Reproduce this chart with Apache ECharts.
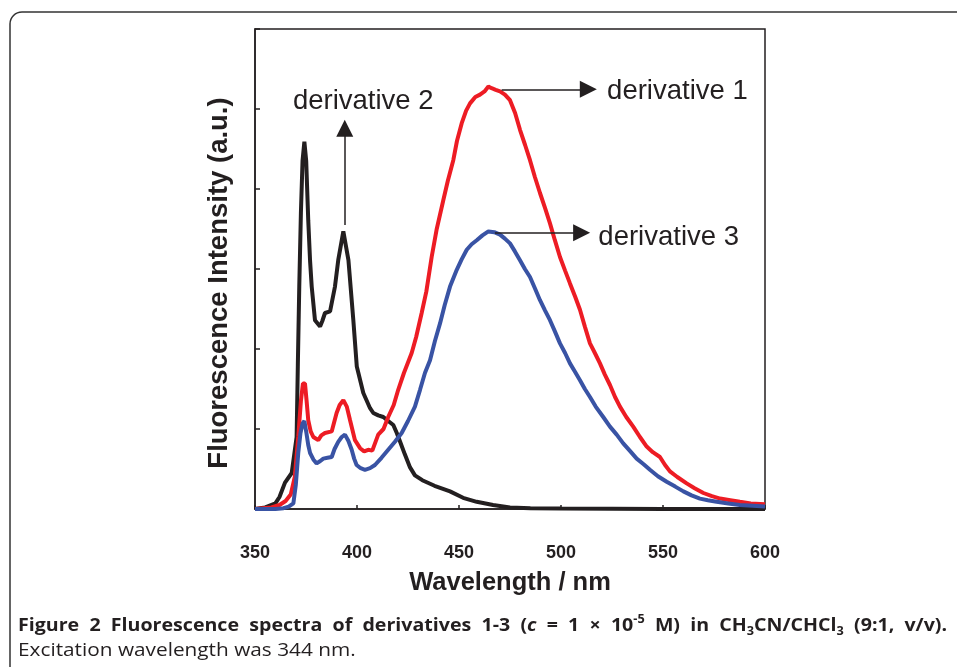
<!DOCTYPE html>
<html>
<head>
<meta charset="utf-8">
<script src="https://cdn.jsdelivr.net/npm/echarts@6/dist/echarts.min.js"></script>
<style>html,body{margin:0;padding:0;background:#fff;}#chart{width:957px;height:667px;}</style>
</head>
<body>
<div id="chart"></div>
<script>
// ---- Data ----
const xTicks = [350, 400, 450, 500, 550, 600];

// derivative 2 (black)
const wlD2 = [350,355,360,362,364.7,368,370.4,371.0,371.7,372.5,373.3,374.2,375.1,376.1,377,377.8,379.4,381.9,383,384.3,386.8,389.2,390.8,393.3,395.8,398.2,399.9,403.1,406.4,408,410.4,412.9,415.3,417.8,419.5,421,423.5,426,428.4,432,438,445.6,452,458.7,466.7,475,485,500,550,600];
const intD2 = [0,0.02,0.07,0.15,0.33,0.45,0.9,1.8,2.78,3.7,4.35,4.59,4.35,3.61,3.1,2.78,2.36,2.28,2.35,2.45,2.47,2.78,3.11,3.47,3.11,2.36,1.78,1.45,1.26,1.2,1.17,1.15,1.1,1.05,0.95,0.85,0.68,0.52,0.42,0.36,0.29,0.22,0.14,0.09,0.05,0.02,0.01,0.005,0,0];

// derivative 1 (red)
const wlD1 = [350,358,362,365,367.5,369.5,371.2,372.5,373.5,374.5,375.3,376.1,377.3,378.6,381,382.5,384.3,387.6,390,391.5,393.3,395,396.6,399,401.5,403.5,405.5,407.5,410.4,413,415.3,418,420.2,423,426.8,429,431.7,434,436.6,439,442.3,444.5,447.2,449,451.3,453.5,455.4,458,460.3,462.5,464.4,466,468,470.1,472.5,475,477.5,479.9,482.4,484.8,487.2,489.7,492.2,494.6,497,499.5,502,504.4,507,509.3,511.7,514.2,516.6,519.1,521.5,524,526.5,528.9,532,535.4,538.7,542,545,548.5,551,553.4,557,561.6,565.5,569.8,574,578,583,587.7,593,600];
const intD1 = [0,0.02,0.05,0.1,0.18,0.4,0.9,1.35,1.57,1.57,1.35,1.11,0.97,0.9,0.86,0.92,0.95,0.97,1.2,1.3,1.36,1.28,1.11,0.86,0.76,0.72,0.74,0.73,0.93,1.0,1.15,1.3,1.49,1.7,1.95,2.15,2.45,2.72,3.15,3.49,3.86,4.1,4.36,4.6,4.82,4.98,5.07,5.15,5.18,5.22,5.28,5.26,5.24,5.22,5.18,5.11,4.95,4.74,4.55,4.36,4.15,3.95,3.76,3.57,3.36,3.15,2.98,2.82,2.65,2.49,2.28,2.07,1.95,1.82,1.68,1.55,1.4,1.28,1.15,1.03,0.9,0.78,0.71,0.65,0.55,0.47,0.4,0.32,0.26,0.2,0.16,0.13,0.11,0.09,0.07,0.06];

// derivative 3 (blue)
const wlD3 = [350,360,364,366.5,368.8,370,371.2,372.3,373.3,374.2,375.2,376.1,377,378.6,380.2,382,383.5,385.5,387.6,389,390.8,392.5,394.1,395.8,397.4,398.6,399.8,401.8,403.9,406.4,408.8,412,415.3,418.6,421.9,425,428.4,430.9,433.3,435.8,438.2,440.7,443,445.6,448.9,451.3,453.8,456.2,458.7,461.5,464.4,467.3,470.1,472.5,475,477.4,479.9,482.3,484.8,487.2,489.7,492.2,494.6,497,499.5,502,504.4,507,509.3,511.7,514.2,517,520.7,524,527.3,530.5,534,537.1,540.5,543.6,547.5,551.8,556,560,564,568.1,572,576.3,582,587.7,594,600];
const intD3 = [0,0,0.01,0.03,0.07,0.3,0.7,0.95,1.07,1.1,0.95,0.8,0.7,0.62,0.57,0.6,0.63,0.64,0.65,0.75,0.84,0.9,0.93,0.85,0.74,0.63,0.55,0.51,0.49,0.51,0.55,0.64,0.74,0.84,0.95,1.1,1.28,1.49,1.7,1.86,2.1,2.32,2.55,2.78,2.99,3.12,3.24,3.31,3.36,3.42,3.47,3.46,3.43,3.38,3.32,3.22,3.11,3.0,2.9,2.76,2.61,2.48,2.36,2.22,2.07,1.95,1.82,1.71,1.61,1.5,1.4,1.28,1.15,1.03,0.93,0.82,0.72,0.63,0.56,0.49,0.41,0.34,0.28,0.22,0.17,0.13,0.11,0.09,0.07,0.05,0.04,0.03];

// annotation labels and arrows (data coordinates)
const labelTexts = ['derivative 1', 'derivative 2', 'derivative 3'];
const labelPos = [[522.6, 5.22], [368.6, 5.10], [518.3, 3.39]];
const arrows = [
  [[470.9, 5.246], [513.4, 5.246]],
  [[394.0, 3.55], [394.0, 4.76]],
  [[467.6, 3.454], [510.1, 3.454]]
];

// ---- Chart ----
const pair = (xs, ys) => xs.map((x, i) => [x, ys[i]]);
const INK = '#231F20';
const chart = echarts.init(document.getElementById('chart'), null, {renderer: 'canvas'});

const option = {
  animation: false,
  backgroundColor: '#fff',
  grid: {left: 255, top: 29, width: 510, height: 480, show: true, borderColor: INK, borderWidth: 1.5, backgroundColor: 'transparent'},
  xAxis: {
    type: 'value', min: 350, max: 600, interval: 50,
    name: 'Wavelength / nm', nameLocation: 'middle', nameGap: 61,
    nameTextStyle: {fontFamily: 'Liberation Sans', fontWeight: 'bold', fontSize: 25.5, color: INK},
    axisLine: {lineStyle: {color: INK, width: 1.5}},
    axisTick: {inside: true, length: 4, lineStyle: {color: INK, width: 1.5}},
    axisLabel: {fontFamily: 'Liberation Sans', fontWeight: 'bold', fontSize: 18, color: INK, margin: 35,
      formatter: v => (xTicks.indexOf(v) >= 0 ? String(v) : '')},
    splitLine: {show: false}
  },
  yAxis: {
    type: 'value', min: 0, max: 6, interval: 1,
    name: 'Fluorescence Intensity (a.u.)', nameLocation: 'middle', nameGap: 22,
    nameTextStyle: {fontFamily: 'Liberation Sans', fontWeight: 'bold', fontSize: 27.5, color: INK, padding: [0, 28, 0, 0]},
    axisLine: {lineStyle: {color: INK, width: 1.5}},
    axisTick: {inside: true, length: 5, lineStyle: {color: INK, width: 1.5}},
    axisLabel: {show: false},
    splitLine: {show: false}
  },
  series: [
    {
      name: 'derivative 2', type: 'line', data: pair(wlD2, intD2), showSymbol: false, smooth: false,
      lineStyle: {color: INK, width: 4}, itemStyle: {color: INK}, z: 2,
      markLine: {
        silent: true, symbol: ['none', 'triangle'], symbolSize: 17,
        label: {show: false},
        lineStyle: {color: INK, width: 1.5, type: 'solid'},
        itemStyle: {color: INK},
        data: arrows.map(a => [{coord: a[0]}, {coord: a[1]}])
      },
      markPoint: {
        silent: true, symbol: 'circle', symbolSize: 0.01, itemStyle: {color: 'transparent'},
        label: {show: true, position: 'right', distance: 0, fontFamily: 'Liberation Sans', fontSize: 27.5, color: INK,
          formatter: p => p.name},
        data: labelTexts.map((t, i) => ({name: t, coord: labelPos[i]}))
      }
    },
    {
      name: 'derivative 1', type: 'line', data: pair(wlD1, intD1), showSymbol: false, smooth: false,
      lineStyle: {color: '#ED1C24', width: 4}, itemStyle: {color: '#ED1C24'}, z: 3
    },
    {
      name: 'derivative 3', type: 'line', data: pair(wlD3, intD3), showSymbol: false, smooth: false,
      lineStyle: {color: '#3953A4', width: 4}, itemStyle: {color: '#3953A4'}, z: 4
    }
  ],
  graphic: [
    {type: 'rect', shape: {x: 10, y: 12, width: 1000, height: 720, r: 12}, style: {fill: 'none', stroke: '#333', lineWidth: 1.5}, silent: true, z: -1},
    {type: 'text', x: 18, y: 626, scaleX: 1.06, silent: true,
      style: {
        text: '{b|Figure  2  Fluorescence  spectra  of  derivatives  1-3  (}{bi|c}{b|  =  1  ×  10}{sup|-5}{b|  M)  in  CH}{sub|3}{b|CN/CHCl}{sub|3}{b|  (9:1,  v/v).}',
        verticalAlign: 'middle', align: 'left',
        rich: {
          b: {fontFamily: 'Open Sans', fontWeight: 'bold', fontSize: 18.5, fill: INK, lineHeight: 24},
          bi: {fontFamily: 'Open Sans', fontWeight: 'bold', fontStyle: 'italic', fontSize: 18.5, fill: INK, lineHeight: 24},
          sup: {fontFamily: 'Open Sans', fontWeight: 'bold', fontSize: 12, fill: INK, verticalAlign: 'top', lineHeight: 24},
          sub: {fontFamily: 'Open Sans', fontWeight: 'bold', fontSize: 12, fill: INK, verticalAlign: 'bottom', lineHeight: 24}
        }
      }
    },
    {type: 'text', x: 18, y: 651, scaleX: 1.155, silent: true,
      style: {text: 'Excitation wavelength was 344 nm.', fontFamily: 'Open Sans', fontSize: 18, fill: INK, verticalAlign: 'middle', align: 'left'}
    }
  ]
};
chart.setOption(option);
</script>
</body>
</html>
